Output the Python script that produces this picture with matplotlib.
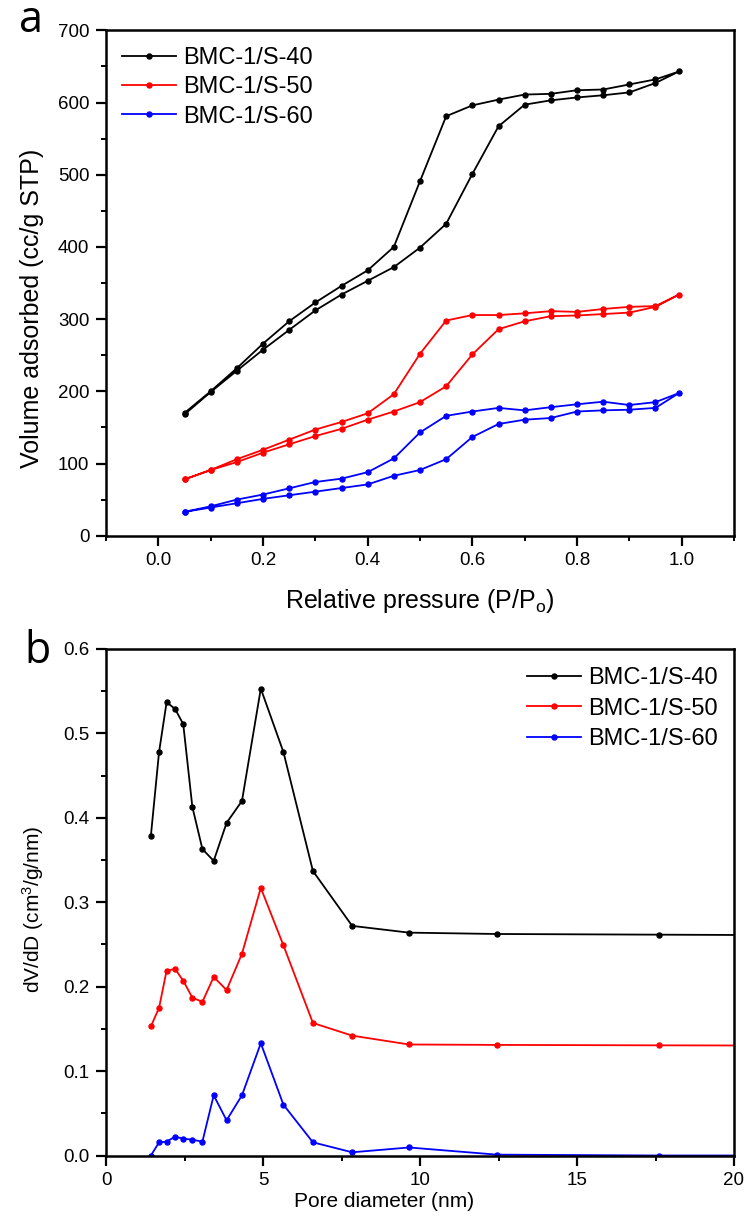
import matplotlib
matplotlib.use("Agg")
import matplotlib.pyplot as plt
from matplotlib.ticker import MultipleLocator, FormatStrFormatter

plt.rcParams['font.family'] = ['Liberation Sans', 'DejaVu Sans']
plt.rcParams['mathtext.fontset'] = 'custom'
plt.rcParams['mathtext.rm'] = 'Liberation Sans'
plt.rcParams['mathtext.it'] = 'Liberation Sans'

# ---------------- data ----------------
labels = ["BMC-1/S-40", "BMC-1/S-50", "BMC-1/S-60"]
colors = ["black", "#ff0000", "#0000ff"]

# (a) N2 isotherms
p_rel = [0.05, 0.10, 0.15, 0.20, 0.25, 0.30, 0.35, 0.40, 0.45, 0.50,
         0.55, 0.60, 0.65, 0.70, 0.75, 0.80, 0.85, 0.90, 0.95, 0.995]
s40_ads = [168, 199, 228.5, 257.6, 285, 312, 334, 353, 372, 399,
           432, 501, 567, 597, 603, 607, 610, 614, 627, 643]
s40_des = [170, 200, 232, 266, 297, 323, 346, 367.5, 400, 491,
           581, 596, 604, 611, 612, 617, 618, 625, 632]
s50_ads = [78, 91, 102, 115, 126.6, 138, 148, 160.7, 172, 185,
           207, 251, 286, 297, 304, 305, 307, 309, 317, 334]
s50_des = [78, 91, 106, 119, 133, 147, 157.5, 169.5, 196, 252,
           298, 305.6, 305.6, 308, 311, 310, 314, 317, 318]
s60_ads = [33, 39, 45, 51, 56, 61, 66, 71, 83, 91,
           106, 136.7, 154.7, 160.7, 163, 172, 173.6, 174.5, 177, 197.6]
s60_des = [33, 40.7, 50, 57, 65.6, 74.4, 79, 88, 107, 143,
           166, 172, 177, 173.6, 178, 182, 185.6, 181, 185]

# (b) pore size distribution
pore_d = [1.43, 1.69, 1.93, 2.20, 2.46, 2.75, 3.07, 3.43, 3.84, 4.33,
          4.93, 5.65, 6.59, 7.84, 9.65, 12.45, 17.6, 25.0]
s40_psd = [0.379, 0.478, 0.537, 0.529, 0.511, 0.413, 0.363, 0.349, 0.394, 0.420,
           0.553, 0.478, 0.337, 0.272, 0.264, 0.2624, 0.2616, 0.2605]
s50_psd = [0.153, 0.175, 0.219, 0.221, 0.207, 0.187, 0.182, 0.2115, 0.196, 0.239,
           0.317, 0.249, 0.157, 0.142, 0.1315, 0.131, 0.1305, 0.130]
s60_psd = [0.0, 0.0156, 0.0164, 0.0223, 0.020, 0.0187, 0.0164, 0.0713, 0.0417, 0.0713,
           0.133, 0.0602, 0.0156, 0.0038, 0.0095, 0.001, 0.0, 0.0]

# ---------------- figure ----------------
W, H = 748, 1222
fig = plt.figure(figsize=(W / 100, H / 100), dpi=100)

def frac_axes(l, t, r, b):
    return fig.add_axes([l / W, 1 - b / H, (r - l) / W, (b - t) / H])

ax1 = frac_axes(106, 30.3, 734, 535.7)
ax2 = frac_axes(106, 649, 734, 1155.5)

def style(ax):
    for s in ax.spines.values():
        s.set_linewidth(1.8)
    ax.tick_params(which='major', direction='out', length=7, width=1.6,
                   labelsize=13.5, pad=5, top=False, right=False)
    ax.tick_params(which='minor', direction='out', length=3.6, width=1.4,
                   top=False, right=False)

lw, ms = 1.3, 3.6

# panel a
ads_list = [s40_ads, s50_ads, s60_ads]
des_list = [s40_des, s50_des, s60_des]
for ads, des, c, lab in zip(ads_list, des_list, colors, labels):
    x = p_rel + p_rel[:-1][::-1]
    y = ads + des[::-1]
    ax1.plot(x, y, '-', marker='o', color=c, lw=lw, ms=ms, label=lab)
ax1.set_xlim(-0.1, 1.1)
ax1.set_ylim(0, 700)
ax1.xaxis.set_major_locator(MultipleLocator(0.2))
ax1.xaxis.set_minor_locator(MultipleLocator(0.1))
ax1.yaxis.set_major_locator(MultipleLocator(100))
ax1.yaxis.set_minor_locator(MultipleLocator(50))
ax1.set_xticks([0.0, 0.2, 0.4, 0.6, 0.8, 1.0])
ax1.set_xticklabels(["0.0", "0.2", "0.4", "0.6", "0.8", "1.0"])
style(ax1)
ax1.set_xlabel(r"Relative pressure (P/P$_\mathregular{o}$)", fontsize=18, labelpad=13)
ax1.set_ylabel("Volume adsorbed (cc/g STP)", fontsize=18, labelpad=10)
ax1.yaxis.label.set_y(0.449)
ax1.legend(loc='upper left', bbox_to_anchor=(0.025, 0.967), frameon=False,
           fontsize=17, handlelength=2.3, handletextpad=0.3, labelspacing=0.31,
           borderpad=0, borderaxespad=0, numpoints=1)

# panel b
for y, c, lab in zip([s40_psd, s50_psd, s60_psd], colors, labels):
    ax2.plot(pore_d, y, '-', marker='o', color=c, lw=lw, ms=ms, label=lab)
ax2.set_xlim(0, 20)
ax2.set_ylim(0, 0.6)
ax2.xaxis.set_major_locator(MultipleLocator(5))
ax2.xaxis.set_minor_locator(MultipleLocator(2.5))
ax2.yaxis.set_major_locator(MultipleLocator(0.1))
ax2.yaxis.set_minor_locator(MultipleLocator(0.05))
ax2.yaxis.set_major_formatter(FormatStrFormatter('%.1f'))
style(ax2)
ax2.set_xlabel("Pore diameter (nm)", fontsize=15, labelpad=2)
ax2.xaxis.label.set_x(0.443)
ax2.set_ylabel(r"dV/dD (cm$^\mathregular{3}$/g/nm)", fontsize=15, labelpad=12)
ax2.yaxis.label.set_y(0.485)
ax2.legend(loc='upper right', bbox_to_anchor=(0.975, 0.964), frameon=False,
           fontsize=17, handlelength=2.3, handletextpad=0.3, labelspacing=0.36,
           borderpad=0, borderaxespad=0, numpoints=1)

# panel letters
fig.text(19 / W, 1 - 32 / H, "a", fontsize=31, family='Open Sans', ha='left', va='baseline')
fig.text(24 / W, 1 - 663 / H, "b", fontsize=31, family='Open Sans', ha='left', va='baseline')

fig.savefig("out.png", dpi=100)
